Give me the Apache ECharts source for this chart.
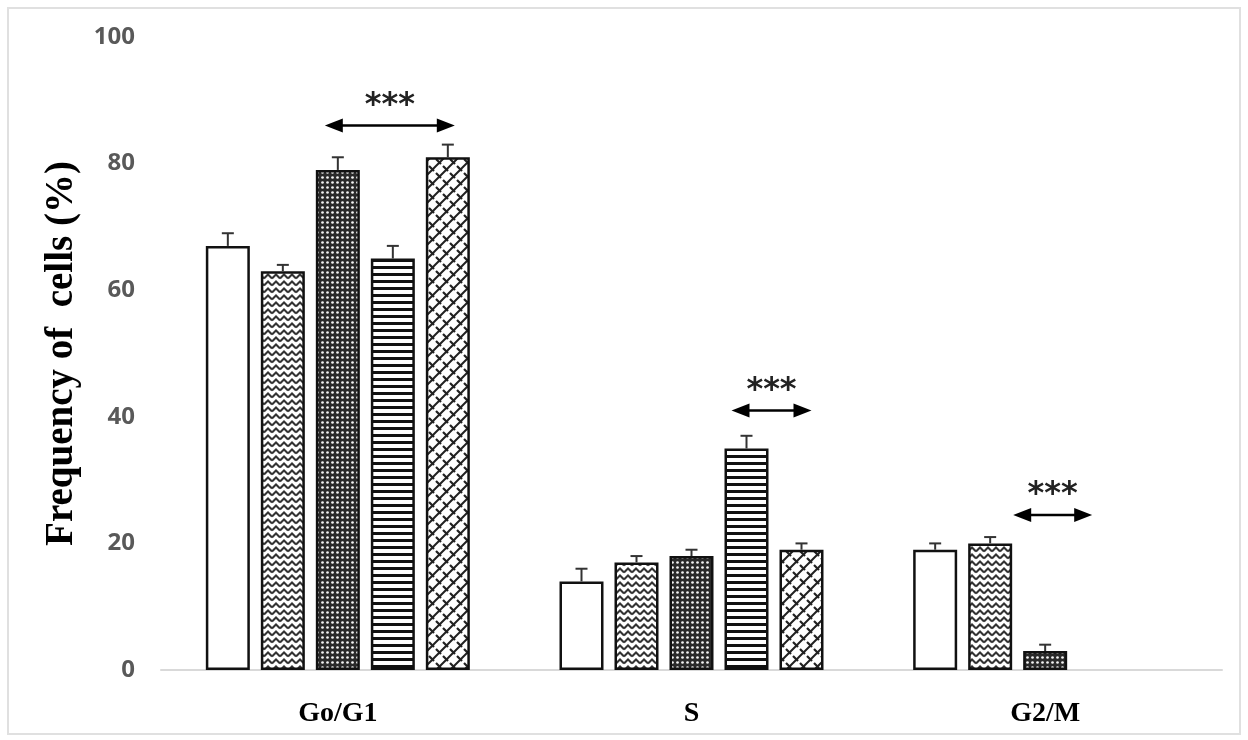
<!DOCTYPE html>
<html>
<head>
<meta charset="utf-8">
<script src="https://cdn.jsdelivr.net/npm/echarts@6/dist/echarts.min.js"></script>
<style>
html,body{margin:0;padding:0;background:#fff;}
#chart{width:1248px;height:740px;}
</style>
</head>
<body>
<div id="chart"></div>
<script>
// ---- data ----
const categories = ['Go/G1', 'S', 'G2/M'];
const yTicks = [0, 20, 40, 60, 80, 100];
const groupA = [67, 14, 19];
const groupB = [63, 17, 20];
const groupC = [79, 18, 3];
const groupD = [65, 35, null];
const groupE = [81, 19, null];
const errA = [2, 2, 1];
const errB = [1, 1, 1];
const errC = [2, 1, 1];
const errD = [2, 2, null];
const errE = [2, 1, null];
const sigLabels = ['***', '***', '***'];
const sigLevels = [86, 41, 24.5];

// ---- patterns ----
function makeCanvas(w, h, draw) {
  const c = document.createElement('canvas');
  c.width = w; c.height = h;
  const ctx = c.getContext('2d');
  ctx.fillStyle = '#fff'; ctx.fillRect(0, 0, w, h);
  draw(ctx, w, h);
  return c;
}
const patWhite = '#ffffff';
const patZigzag = makeCanvas(8, 7, (ctx) => {
  ctx.strokeStyle = '#333'; ctx.lineWidth = 2;
  ctx.beginPath();
  ctx.moveTo(0, 5.5); ctx.lineTo(4, 1.5); ctx.lineTo(8, 5.5);
  ctx.stroke();
});
const patDots = makeCanvas(5, 5, (ctx) => {
  ctx.fillStyle = '#2a2a2a'; ctx.fillRect(0, 0, 5, 5);
  ctx.fillStyle = '#f4f4f4';
  ctx.beginPath(); ctx.arc(2.5, 2.5, 1.35, 0, Math.PI * 2); ctx.fill();
});
const patStripes = makeCanvas(8, 7, (ctx) => {
  ctx.fillStyle = '#111'; ctx.fillRect(0, 0, 8, 3);
});
const patBrick = makeCanvas(14, 14, (ctx) => {
  ctx.strokeStyle = '#222'; ctx.lineWidth = 2;
  ctx.beginPath();
  ctx.moveTo(-2, 16); ctx.lineTo(16, -2);
  ctx.moveTo(-9, 9); ctx.lineTo(9, -9);
  ctx.moveTo(5, 23); ctx.lineTo(23, 5);
  ctx.stroke();
  ctx.lineWidth = 2.2;
  ctx.beginPath();
  ctx.moveTo(2, 5); ctx.lineTo(7, 10);
  ctx.moveTo(9, 12); ctx.lineTo(14, 17);
  ctx.moveTo(9, -2); ctx.lineTo(14, 3);
  ctx.moveTo(-5, -2); ctx.lineTo(0, 3);
  ctx.stroke();
});

const seriesVals = [groupA, groupB, groupC, groupD, groupE];
const seriesErr = [errA, errB, errC, errD, errE];
const fills = [patWhite, {image: patZigzag, repeat: 'repeat'}, {image: patDots, repeat: 'repeat'},
               {image: patStripes, repeat: 'repeat'}, {image: patBrick, repeat: 'repeat'}];
const BAR_W = 44, BAR_GAP = 11;

const series = [];
seriesVals.forEach((vals, i) => {
  series.push({
    type: 'bar',
    data: vals,
    barWidth: BAR_W,
    barGap: (BAR_GAP / BAR_W * 100) + '%',
    itemStyle: {color: fills[i], borderColor: '#111', borderWidth: 2.5},
    z: 2
  });
});
seriesVals.forEach((vals, i) => {
  const off = (i - 2) * (BAR_W + BAR_GAP);
  series.push({
    type: 'custom',
    z: 3,
    data: vals.map((v, k) => v == null ? null : [k, v, seriesErr[i][k]]).filter(d => d),
    renderItem: function (params, api) {
      const c = api.coord([api.value(0), api.value(1)]);
      const t = api.coord([api.value(0), api.value(1) + api.value(2)]);
      const x = c[0] + off;
      return {
        type: 'group',
        children: [
          {type: 'line', shape: {x1: x, y1: c[1], x2: x, y2: t[1]}, style: {stroke: '#333', lineWidth: 2}},
          {type: 'line', shape: {x1: x - 6, y1: t[1], x2: x + 6, y2: t[1]}, style: {stroke: '#333', lineWidth: 2}}
        ]
      };
    }
  });
});

const chart = echarts.init(document.getElementById('chart'));
chart.setOption({
  animation: false,
  backgroundColor: '#fff',
  grid: {left: 161, right: 26, top: 37, bottom: 70},
  xAxis: {
    type: 'category',
    data: categories,
    axisLine: {lineStyle: {color: '#d9d9d9', width: 2}},
    axisTick: {show: false},
    axisLabel: {color: '#000', fontFamily: 'Liberation Serif', fontWeight: 'bold', fontSize: 28, margin: 30}
  },
  yAxis: {
    type: 'value',
    min: yTicks[0], max: yTicks[yTicks.length - 1], interval: 20,
    axisLine: {show: false},
    axisTick: {show: false},
    splitLine: {show: false},
    axisLabel: {color: '#595959', fontFamily: 'Open Sans', fontWeight: 'bold', fontSize: 24, margin: 26},
    name: 'Frequency of  cells (%)',
    nameLocation: 'middle',
    nameRotate: 90,
    nameGap: 80,
    nameTextStyle: {color: '#000', fontFamily: 'Liberation Serif', fontWeight: 'bold', fontSize: 39}
  },
  series: series
});

// annotations: arrow spans as pixel offsets from category centre
const sigSpans = [[-13, 117], [40, 120], [-32, 47]];
const graphics = [{
  type: 'rect', shape: {x: 8, y: 8, width: 1232, height: 726},
  style: {fill: 'none', stroke: '#e0e0e0', lineWidth: 2}, silent: true
}];
categories.forEach((cat, k) => {
  const cx = chart.convertToPixel({xAxisIndex: 0}, k);
  const y = chart.convertToPixel({yAxisIndex: 0}, sigLevels[k]);
  const x1 = cx + sigSpans[k][0], x2 = cx + sigSpans[k][1];
  const ah = 18, aw = 7;
  graphics.push({
    type: 'group',
    children: [
      {type: 'line', shape: {x1: x1 + ah - 2, y1: y, x2: x2 - ah + 2, y2: y}, style: {stroke: '#000', lineWidth: 2.5}},
      {type: 'polygon', shape: {points: [[x1, y], [x1 + ah, y - aw], [x1 + ah, y + aw]]}, style: {fill: '#000'}},
      {type: 'polygon', shape: {points: [[x2, y], [x2 - ah, y - aw], [x2 - ah, y + aw]]}, style: {fill: '#000'}},
      {type: 'text', x: (x1 + x2) / 2, y: y - 20,
       style: {text: sigLabels[k], fill: '#222', font: 'bold 32px DejaVu Sans', align: 'center', verticalAlign: 'middle'}}
    ]
  });
});
chart.setOption({graphic: graphics});
</script>
</body>
</html>
